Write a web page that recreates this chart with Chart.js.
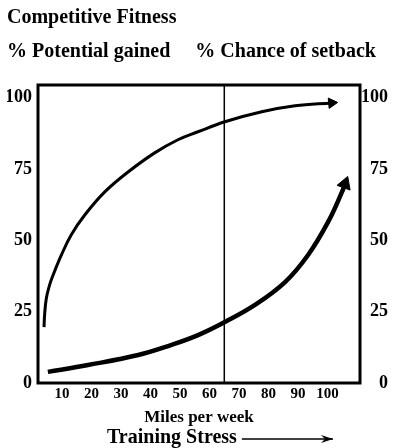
<!DOCTYPE html>
<html>
<head>
<meta charset="utf-8">
<script src="https://cdn.jsdelivr.net/npm/chart.js@4.4.0/dist/chart.umd.min.js"></script>
<style>
  html, body { margin: 0; padding: 0; background: #fff; }
  #wrap { width: 395px; height: 448px; }
</style>
</head>
<body>
<div id="wrap"><canvas id="fitnessChart"></canvas></div>
<script>
// values
const mileTicks = [10, 20, 30, 40, 50, 60, 70, 80, 90, 100];
const percentTicks = [0, 25, 50, 75, 100];

const potentialMiles = [3.9, 4.1, 4.7, 5.8, 7.0, 9.8, 13.1, 17.7, 24.5, 32.4, 41.4, 49.3, 56.1, 65.2, 77.7, 89.0, 101.4];
const potentialPct   = [19.6, 23.9, 29.8, 34.4, 37.9, 44.9, 51.9, 58.9, 67.0, 74.0, 80.7, 85.3, 88.1, 91.6, 95.1, 97.2, 98.2];

const setbackMiles = [5.2, 18.8, 35.8, 46.9, 56.1, 65.2, 75.4, 85.6, 93.4, 100.2, 104.9, 105.9];
const setbackPct   = [3.9, 6.3, 9.8, 13.3, 16.8, 21.4, 27.4, 35.4, 44.9, 56.5, 67.0, 69.8];

const markerMiles = 65;

const serif = 'Liberation Serif';

function toPoints(xs, ys) {
    return xs.map((x, i) => ({ x: x, y: ys[i] }));
}

// only the last point gets the arrow head
function arrowRadius(xs, r) {
    return xs.map((x, i) => i === xs.length - 1 ? r : 0);
}

// box around the plot area
const framePlugin = {
    id: 'frame',
    afterDatasetsDraw(chart) {
        const a = chart.chartArea;
        const ctx = chart.ctx;
        ctx.save();
        ctx.strokeStyle = '#000';
        ctx.lineWidth = 3;
        ctx.strokeRect(a.left, a.top, a.right - a.left, a.bottom - a.top);
        ctx.restore();
    }
};

// "Training Stress --->" under the axis title
const stressPlugin = {
    id: 'stressLabel',
    afterDraw(chart) {
        const ctx = chart.ctx;
        const a = chart.chartArea;
        const y = chart.height - 10;
        const x0 = a.left + 69;
        ctx.save();
        ctx.fillStyle = '#000';
        ctx.strokeStyle = '#000';
        ctx.font = 'bold 20px ' + serif;
        ctx.textBaseline = 'middle';
        ctx.textAlign = 'left';
        const label = 'Training Stress';
        ctx.fillText(label, x0, y);
        const start = x0 + ctx.measureText(label).width + 5;
        const end = a.left + 295;
        ctx.lineWidth = 1.5;
        ctx.beginPath();
        ctx.moveTo(start, y + 1);
        ctx.lineTo(end, y + 1);
        ctx.stroke();
        ctx.beginPath();
        ctx.moveTo(end, y + 1);
        ctx.lineTo(end - 12, y - 3);
        ctx.lineTo(end - 8, y + 1);
        ctx.lineTo(end - 12, y + 5);
        ctx.closePath();
        ctx.fill();
        ctx.restore();
    }
};

const ctx = document.getElementById('fitnessChart').getContext('2d');
const fitnessChart = new Chart(ctx, {
    type: 'line',
    data: {
        datasets: [{
            label: '% Potential gained',
            data: toPoints(potentialMiles, potentialPct),
            borderColor: '#000',
            borderWidth: 3,
            tension: 0.4,
            pointStyle: 'triangle',
            pointRadius: arrowRadius(potentialMiles, 6),
            pointRotation: 85,
            pointBackgroundColor: '#000',
            pointBorderColor: '#000',
            pointBorderWidth: 1
        }, {
            label: '% Chance of setback',
            data: toPoints(setbackMiles, setbackPct),
            borderColor: '#000',
            borderWidth: 4.5,
            tension: 0.4,
            pointStyle: 'triangle',
            pointRadius: arrowRadius(setbackMiles, 8),
            pointRotation: 20,
            pointBackgroundColor: '#000',
            pointBorderColor: '#000',
            pointBorderWidth: 1
        }, {
            label: 'marker',
            data: [{ x: markerMiles, y: 0 }, { x: markerMiles, y: 104.5 }],
            borderColor: '#000',
            borderWidth: 1.5,
            pointRadius: 0
        }]
    },
    options: {
        responsive: true,
        maintainAspectRatio: false,
        animation: false,
        layout: {
            padding: { left: 7, right: 7, top: 0, bottom: 0 }
        },
        plugins: {
            legend: { display: false },
            tooltip: { enabled: false },
            title: {
                display: true,
                text: 'Competitive Fitness',
                align: 'start',
                color: '#000',
                font: { family: serif, size: 20, weight: 'bold' },
                padding: { top: 6, bottom: 10 }
            },
            subtitle: {
                display: true,
                text: '% Potential gained     % Chance of setback',
                align: 'start',
                color: '#000',
                font: { family: serif, size: 20, weight: 'bold' },
                padding: { top: 0, bottom: 21 }
            }
        },
        scales: {
            x: {
                type: 'linear',
                min: 1.86,
                max: 111,
                afterBuildTicks: s => { s.ticks = mileTicks.map(v => ({ value: v })); },
                afterFit: s => { s.height = 65; },
                grid: { display: false, drawTicks: false },
                border: { display: false },
                ticks: {
                    color: '#000',
                    padding: 2,
                    maxRotation: 0,
                    autoSkip: false,
                    font: { family: serif, size: 15, weight: 'bold' }
                },
                title: {
                    display: true,
                    text: 'Miles per week',
                    color: '#000',
                    font: { family: serif, size: 17, weight: 'bold' },
                    padding: { top: 0, bottom: 20 }
                }
            },
            y: {
                position: 'left',
                min: 0,
                max: 104.5,
                afterBuildTicks: s => { s.ticks = percentTicks.map(v => ({ value: v })); },
                afterFit: s => { s.width = 31; },
                grid: { display: false, drawTicks: false },
                border: { display: false },
                ticks: {
                    color: '#000',
                    padding: 6,
                    font: { family: serif, size: 18, weight: 'bold' }
                }
            },
            y2: {
                position: 'right',
                min: 0,
                max: 104.5,
                afterBuildTicks: s => { s.ticks = percentTicks.map(v => ({ value: v })); },
                afterFit: s => { s.width = 28; },
                grid: { display: false, drawTicks: false },
                border: { display: false },
                ticks: {
                    color: '#000',
                    padding: 2,
                    crossAlign: 'far',
                    font: { family: serif, size: 18, weight: 'bold' }
                }
            }
        }
    },
    plugins: [framePlugin, stressPlugin]
});
</script>
</body>
</html>
